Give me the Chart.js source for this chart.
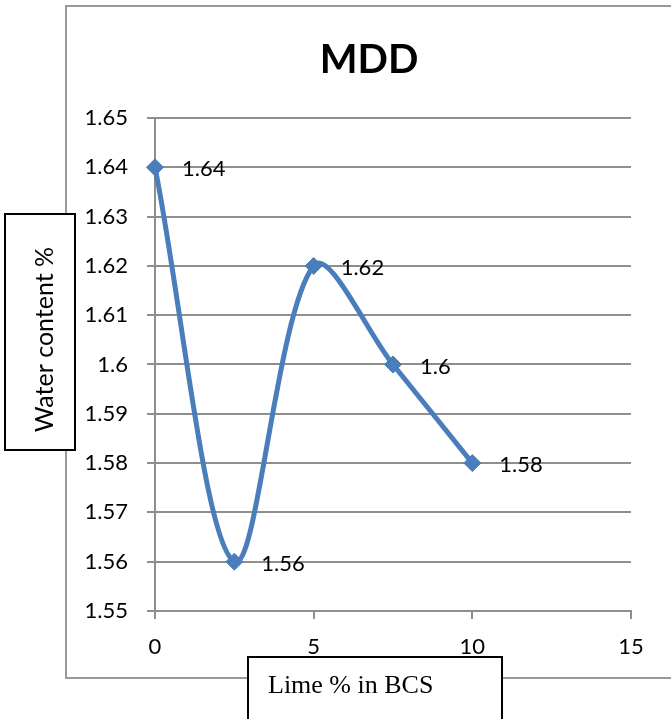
<!DOCTYPE html>
<html>
<head>
<meta charset="utf-8">
<script src="https://cdn.jsdelivr.net/npm/chart.js@4/dist/chart.umd.min.js"></script>
<style>
  html, body { margin: 0; padding: 0; background: #ffffff; }
  canvas { display: block; }
</style>
</head>
<body>
<canvas id="chart" width="671" height="719"></canvas>
<script>
// Lime content (%) added to black cotton soil
const limePercent = [0, 2.5, 5, 7.5, 10];
// Maximum dry density readings
const mddValues = [1.64, 1.56, 1.62, 1.60, 1.58];
// Labels printed beside each point
const pointLabels = ['1.64', '1.56', '1.62', '1.6', '1.58'];
// Y-axis tick labels, bottom to top
const yTickLabels = ['1.55', '1.56', '1.57', '1.58', '1.59', '1.6', '1.61', '1.62', '1.63', '1.64', '1.65'];
// X-axis tick labels
const xTickLabels = ['0', '5', '10', '15'];

const chartTitle = 'MDD';
const yTitle = 'Water content %';
const xTitle = 'Lime % in BCS';

const lineBlue = '#4a7ebb';
const gridGrey = '#8e8e8e';
const sansFont = 'Lato, "Open Sans", sans-serif';

// Frame, title, axis-title boxes and point labels
const decorations = {
  id: 'decorations',
  beforeDraw(chart) {
    const ctx = chart.ctx;
    ctx.save();
    ctx.fillStyle = '#ffffff';
    ctx.fillRect(0, 0, chart.width, chart.height);
    ctx.strokeStyle = '#999999';
    ctx.lineWidth = 2;
    ctx.strokeRect(66, 6, 700, 672);
    ctx.restore();
  },
  afterDatasetsDraw(chart) {
    const ctx = chart.ctx;
    const meta = chart.getDatasetMeta(0);
    ctx.save();
    ctx.fillStyle = '#000000';
    ctx.font = '22px ' + sansFont;
    ctx.textAlign = 'left';
    ctx.textBaseline = 'middle';
    meta.data.forEach((pt, i) => {
      ctx.fillText(pointLabels[i], pt.x + 27, pt.y + 2);
    });
    ctx.restore();
  },
  afterDraw(chart) {
    const ctx = chart.ctx;
    ctx.save();
    // chart title
    ctx.fillStyle = '#000000';
    ctx.font = 'bold 40px ' + sansFont;
    ctx.textAlign = 'center';
    ctx.textBaseline = 'alphabetic';
    ctx.fillText(chartTitle, 369, 73);

    // y-axis title box
    ctx.fillStyle = '#ffffff';
    ctx.fillRect(4, 213, 72, 238);
    ctx.strokeStyle = '#000000';
    ctx.lineWidth = 2;
    ctx.strokeRect(5, 214, 70, 236);
    ctx.save();
    ctx.translate(53, 339.5);
    ctx.rotate(-Math.PI / 2);
    ctx.fillStyle = '#000000';
    ctx.font = '25px ' + sansFont;
    ctx.textAlign = 'center';
    ctx.textBaseline = 'alphabetic';
    ctx.fillText(yTitle, 0, 0);
    ctx.restore();

    // x-axis title box
    ctx.fillStyle = '#ffffff';
    ctx.fillRect(247, 656, 256, 80);
    ctx.strokeStyle = '#000000';
    ctx.lineWidth = 2;
    ctx.strokeRect(248, 657, 254, 80);
    ctx.fillStyle = '#000000';
    ctx.font = '26px "Liberation Serif", "Times New Roman", serif';
    ctx.textAlign = 'left';
    ctx.textBaseline = 'alphabetic';
    ctx.fillText(xTitle, 268, 693);
    ctx.restore();
  }
};

new Chart(document.getElementById('chart'), {
  type: 'scatter',
  data: {
    datasets: [{
      data: limePercent.map((x, i) => ({ x: x, y: mddValues[i] })),
      showLine: true,
      tension: 0.33,
      borderColor: lineBlue,
      borderWidth: 5,
      backgroundColor: lineBlue,
      pointStyle: 'rectRot',
      pointRadius: 8.5,
      pointBorderWidth: 1,
      pointBorderColor: lineBlue,
      pointBackgroundColor: lineBlue,
      clip: false
    }]
  },
  options: {
    responsive: false,
    animation: false,
    layout: { padding: { left: 0, right: 40, top: 118, bottom: 0 } },
    plugins: {
      legend: { display: false },
      title: { display: false },
      tooltip: { enabled: false }
    },
    scales: {
      x: {
        type: 'linear',
        min: 0,
        max: 15,
        afterFit(scale) { scale.height = 108; },
        afterBuildTicks(scale) {
          scale.ticks = xTickLabels.map(v => ({ value: Number(v) }));
        },
        ticks: {
          stepSize: 5,
          padding: 15,
          color: '#000000',
          font: { family: sansFont, size: 22 },
          callback: (v, i) => xTickLabels[i]
        },
        grid: {
          drawOnChartArea: false,
          drawTicks: true,
          tickLength: 8,
          color: gridGrey,
          lineWidth: 2
        },
        border: { display: true, color: gridGrey, width: 2 }
      },
      y: {
        type: 'linear',
        min: 1.55,
        max: 1.65,
        afterFit(scale) { scale.width = 155; },
        afterBuildTicks(scale) {
          scale.ticks = yTickLabels.map(v => ({ value: Number(v) }));
        },
        ticks: {
          stepSize: 0.01,
          padding: 19,
          color: '#000000',
          font: { family: sansFont, size: 22 },
          callback: (v, i) => yTickLabels[i]
        },
        grid: {
          drawOnChartArea: true,
          drawTicks: true,
          tickLength: 8,
          color: gridGrey,
          lineWidth: 2
        },
        border: { display: true, color: gridGrey, width: 2 }
      }
    }
  },
  plugins: [decorations]
});
</script>
</body>
</html>
